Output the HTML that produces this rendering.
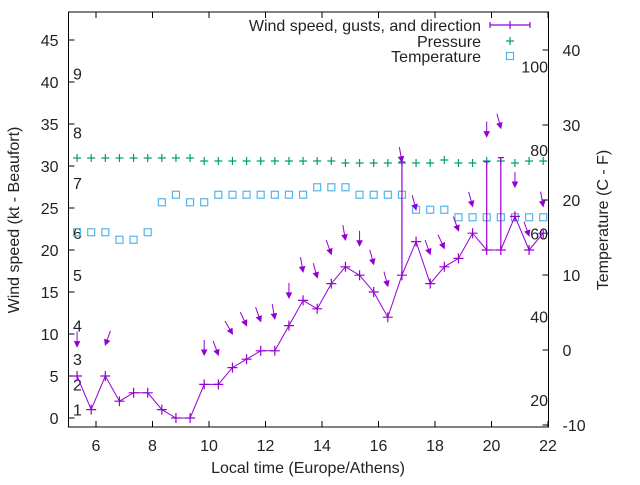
<!DOCTYPE html>
<html><head><meta charset="utf-8"><style>
body{margin:0;background:#fff}
svg{font-family:"Liberation Sans",sans-serif;font-size:16px}
</style></head><body>
<svg id="chart" width="640" height="480" viewBox="0 0 640 480" xmlns="http://www.w3.org/2000/svg">
<rect width="640" height="480" fill="#fff"/>
</svg>
<script>
const times=[5.33,5.83,6.33,6.83,7.33,7.83,8.33,8.83,9.33,9.83,10.33,10.83,11.33,11.83,12.33,12.83,13.33,13.83,14.33,14.83,15.33,15.83,16.33,16.83,17.33,17.83,18.33,18.83,19.33,19.83,20.33,20.83,21.33,21.83];
const windSpeed=[5,1,5,2,3,3,1,0,0,4,4,6,7,8,8,11,14,13,16,18,17,15,12,17,21,16,18,19,22,20,20,24,20,22];
const gusts=[null,null,null,null,null,null,null,null,null,null,null,null,null,null,null,null,null,null,null,null,null,null,null,30.5,null,null,null,null,null,30.5,31,null,null,null];
const arrowVal=[8.5,null,8.7,null,null,null,null,null,null,7.5,7.5,10,11,11.5,11.8,14.3,17.4,16.7,19.5,21.2,20.5,18.3,15.7,30.5,24.8,19.5,20.2,22.3,25.2,33.5,34.5,27.5,21.7,25.2];
const windDir=[0,null,20,null,null,null,null,null,null,0,340,330,335,340,350,0,350,345,340,350,0,345,345,350,345,340,335,340,345,0,345,0,340,350];
const pressure=[1016,1016,1016,1016,1016,1016,1016,1016,1016,1015.7,1015.7,1015.7,1015.7,1015.7,1015.7,1015.7,1015.7,1015.7,1015.7,1015.5,1015.5,1015.5,1015.5,1015.5,1015.5,1015.5,1015.8,1015.5,1015.5,1015.7,1015.7,1015.5,1015.7,1015.7];
const temperature=[15.7,15.7,15.7,14.7,14.7,15.7,19.7,20.7,19.7,19.7,20.7,20.7,20.7,20.7,20.7,20.7,20.7,21.7,21.7,21.7,20.7,20.7,20.7,20.7,18.7,18.7,18.7,17.7,17.7,17.7,17.7,17.7,17.7,17.7];
const xTicks=[6,8,10,12,14,16,18,20,22];
const yTicks=[0,5,10,15,20,25,30,35,40,45];
const y2Ticks=[-10,0,10,20,30,40];
const beaufort=[1,4,7,11,17,22,28,34,41];
const fahrenheit=[20,40,60,80,100];

const L=68.5,R=548.5,T=12,B=427;
const X=h=>96+(h-6)*28.25;
const Y=k=>418-k*8.4;
const Y2=c=>350-c*7.5;
const YP=p=>158+(1016-p)*10;
const svg=document.getElementById('chart');
const NS='http://www.w3.org/2000/svg';
function mk(tag,attrs,parent){const e=document.createElementNS(NS,tag);for(const k in attrs)e.setAttribute(k,attrs[k]);(parent||svg).appendChild(e);return e;}
const PUR='#9400d3',GRN='#009e73',CYN='#56b4e9';

const frame=mk('rect',{x:L,y:T,width:R-L,height:B-T,fill:'none',stroke:'#000','stroke-width':1});


xTicks.forEach(h=>{
  const g=mk('g',{});
  
  
  mk('line',{x1:X(h),x2:X(h),y1:B,y2:B-6,stroke:'#000'},g);
  mk('line',{x1:X(h),x2:X(h),y1:T,y2:T+6,stroke:'#000'},g);
  const t=mk('text',{x:X(h),y:B+24,'text-anchor':'middle',fill:'#222'},g);t.textContent=h;
});
yTicks.forEach(v=>{
  const g=mk('g',{});
  
  
  mk('line',{x1:L,x2:L+6,y1:Y(v),y2:Y(v),stroke:'#000'},g);
  const t=mk('text',{x:L-10,y:Y(v)+6,'text-anchor':'end',fill:'#222'},g);t.textContent=v;
});
y2Ticks.forEach(v=>{
  const g=mk('g',{});
  
  
  mk('line',{x1:R,x2:R-6,y1:Y2(v),y2:Y2(v),stroke:'#000'},g);
  const t=mk('text',{x:R+14,y:Y2(v)+6,'text-anchor':'start',fill:'#222'},g);t.textContent=v;
});
beaufort.forEach((k,i)=>{
  const t=mk('text',{x:73,y:Y(k)+6,fill:'#222'});
  
  
  t.textContent=i+1;
});
fahrenheit.forEach(f=>{
  const t=mk('text',{x:548,y:Y2((f-32)/1.8)+6,'text-anchor':'end',fill:'#222'});
  
  
  t.textContent=f;
});

times.forEach((h,i)=>{
  const x=X(h),y=YP(pressure[i]);
  const p=mk('path',{d:`M${x-4} ${y}h8M${x} ${y-4}v8`,stroke:GRN,'stroke-width':1.2});
  
  
});
times.forEach((h,i)=>{
  const x=X(h),y=Y2(temperature[i]);
  const r=mk('rect',{x:x-3.5,y:y-3.5,width:7,height:7,fill:'none',stroke:CYN,'stroke-width':1.2});
  
  
});
const line=mk('polyline',{points:times.map((h,i)=>X(h)+','+Y(windSpeed[i])).join(' '),fill:'none',stroke:PUR,'stroke-width':1});


times.forEach((h,i)=>{
  const x=X(h),y=Y(windSpeed[i]);
  const p=mk('path',{d:`M${x-5} ${y}h10M${x} ${y-5}v10`,stroke:PUR,'stroke-width':1.2});
  
  
  if(gusts[i]!=null){
    const g=mk('path',{d:`M${x} ${y}V${Y(gusts[i])}M${x-3} ${Y(gusts[i])}h6`,stroke:PUR,'stroke-width':1.2,fill:'none'});
    
    
  }
  if(arrowVal[i]!=null){
    const a=(windDir[i]+180)*Math.PI/180;
    const dx=Math.sin(a),dy=-Math.cos(a);
    const hx=x,hy=Y(arrowVal[i]);
    const len=15,hl=5,hw=2.5;
    const tx=hx-dx*len,ty=hy-dy*len;
    const bx=hx-dx*hl,by=hy-dy*hl;
    const ar=mk('g',{});
    
    
    mk('line',{x1:tx,y1:ty,x2:bx,y2:by,stroke:PUR,'stroke-width':1},ar);
    mk('polygon',{points:`${hx},${hy} ${bx-dy*hw},${by+dx*hw} ${bx+dy*hw},${by-dx*hw}`,fill:PUR,stroke:PUR,'stroke-width':1},ar);
  }
});

const lg=mk('g',{});


[['Wind speed, gusts, and direction',25],['Pressure',41],['Temperature',56]].forEach(([s,y])=>{
  const t=mk('text',{x:481,y:y+6,'text-anchor':'end',fill:'#222'},lg);t.textContent=s;
});
mk('path',{d:'M490 25h40M490 22v6M530 22v6M510 21v8',stroke:PUR,'stroke-width':1.2},lg);
mk('path',{d:'M506 41h8M510 37v8',stroke:GRN,'stroke-width':1.2},lg);
mk('rect',{x:506.5,y:52.5,width:7,height:7,fill:'none',stroke:CYN,'stroke-width':1.2},lg);

const xt=mk('text',{x:308,y:473,'text-anchor':'middle',fill:'#222'});


xt.textContent='Local time (Europe/Athens)';
const yt=mk('text',{x:0,y:0,'text-anchor':'middle',fill:'#222',transform:'translate(19,220) rotate(-90)'});


yt.textContent='Wind speed (kt - Beaufort)';
const y2t=mk('text',{x:0,y:0,'text-anchor':'middle',fill:'#222',transform:'translate(608,220) rotate(-90)'});


y2t.textContent='Temperature (C - F)';
</script>
</body></html>
